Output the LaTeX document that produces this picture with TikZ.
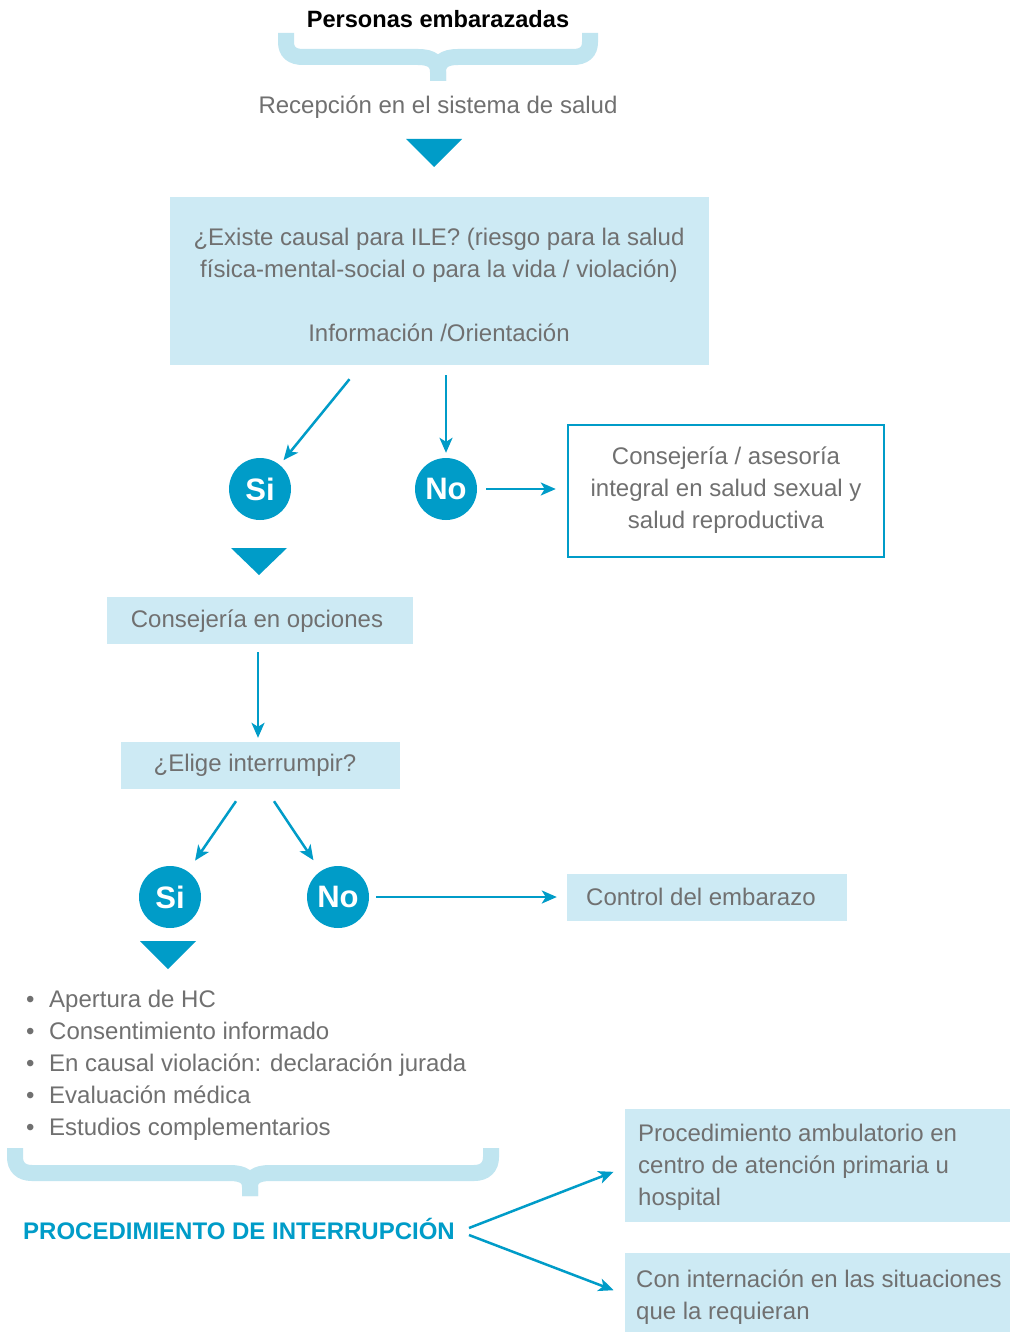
\documentclass[tikz,border=0pt]{standalone}
\usepackage{fontspec}
\setmainfont{Liberation Sans}
\usetikzlibrary{arrows.meta,calc}
\definecolor{dblue}{HTML}{009CC8}
\definecolor{lbox}{HTML}{CDEAF4}
\definecolor{lbrace}{HTML}{C0E5F0}
\definecolor{tgray}{HTML}{707070}
\begin{document}
\begin{tikzpicture}[x=1pt,y=-1pt,
  txt/.style={text=tgray,font=\fontsize{24}{32}\selectfont,inner sep=0pt},
  fbox/.style={fill=lbox,inner sep=0pt},
  circ/.style={circle,fill=dblue,minimum size=62pt,inner sep=0pt,text=white,font=\fontsize{31}{31}\selectfont\bfseries},
  arr/.style={draw=dblue,line width=2.5pt,-{Stealth[length=15pt,width=13pt,inset=4pt]}},
  tri/.style={fill=dblue},
  bracestroke/.style={draw=lbrace,line width=16pt}]
\useasboundingbox[fill=white] (0,0) rectangle (1010,1332);

% title and top brace
\node[font=\fontsize{23.6}{28}\selectfont\bfseries,inner sep=0pt] (title) at (438,19) {Personas embarazadas};
\draw[bracestroke] (286,33) -- (286,42) .. controls (286,52) and (292,57) .. (303,57) -- (418,57) .. controls (432,57) and (438,62) .. (438,72) -- (438,81);
\draw[bracestroke] (590,33) -- (590,42) .. controls (590,52) and (584,57) .. (573,57) -- (458,57) .. controls (444,57) and (438,62) .. (438,72) -- (438,81);

\node[txt] (recep) at (438,107) {Recepción en el sistema de salud};
\fill[tri] (406,139) -- (462,139) -- (434,167) -- cycle;

% first question box
\node[fbox,minimum width=539pt,minimum height=168pt] (box1) at (439.5,281) {};
\node[txt,align=center] (q1) at (439,285) {¿Existe causal para ILE? (riesgo para la salud\\física-mental-social o para la vida / violación)\\[32pt]Información /Orientación};

\node[circ] (si1) at (260,489) {Si};
\node[circ] (no1) at (446,489) {No};
\draw[arr,shorten >=6pt] ([shift={(-90,14)}]box1.south) -- (si1);
\draw[arr,shorten >=5pt] ([yshift=-10pt]box1.south -| no1.north) -- (no1.north);

\node[draw=dblue,line width=2.5pt,fill=white,minimum width=316pt,minimum height=132pt,inner sep=0pt] (cons) at (726,491) {};
\node[txt,align=center] (constxt) at (726,490) {Consejería / asesoría\\integral en salud sexual y\\salud reproductiva};
\draw[arr,shorten <=9pt,shorten >=11pt] (no1.east) -- (no1.east -| cons.west);

\fill[tri] (231,548) -- (287,548) -- (259,575) -- cycle;

\node[fbox,minimum width=306pt,minimum height=47pt] (opc) at (260,620.5) {};
\node[txt] (opctxt) at (257,621) {Consejería en opciones};

\node[fbox,minimum width=279pt,minimum height=47pt] (elige) at (260.5,765.5) {};
\node[txt] (eligetxt) at (255,765) {¿Elige interrumpir?};
\draw[arr,shorten <=8pt,shorten >=4pt] ([xshift=-2pt]opc.south) -- ([xshift=-2.5pt]elige.north);

\node[circ] (si2) at (170,897) {Si};
\node[circ] (no2) at (338,897) {No};
\draw[arr,shorten >=13pt] ([shift={(-24.5,12)}]elige.south) -- (si2);
\draw[arr,shorten >=13pt] ([shift={(13.5,12)}]elige.south) -- (no2);

\node[fbox,minimum width=280pt,minimum height=47pt] (ctrl) at (707,897) {};
\node[txt,anchor=west] (ctrltxt) at (586,897) {Control del embarazo};
\draw[arr,shorten <=7pt,shorten >=10pt] (no2.east) -- (no2.east -| ctrl.west);

\fill[tri] (140,941) -- (196,941) -- (168,969) -- cycle;

\node[txt,anchor=west,align=left] (list) at (26,1065) {%
\makebox[23pt][l]{\textbullet}Apertura de HC\\
\makebox[23pt][l]{\textbullet}Consentimiento informado\\
\makebox[23pt][l]{\textbullet}En causal violación: declaración jurada\\
\makebox[23pt][l]{\textbullet}Evaluación médica\\
\makebox[23pt][l]{\textbullet}Estudios complementarios};

% bottom brace
\draw[bracestroke] (15,1148) -- (15,1157) .. controls (15,1167) and (21,1173) .. (32,1173) -- (230,1173) .. controls (244,1173) and (250,1178) .. (250,1187) -- (250,1196);
\draw[bracestroke] (491,1148) -- (491,1157) .. controls (491,1167) and (485,1173) .. (474,1173) -- (270,1173) .. controls (256,1173) and (250,1178) .. (250,1187) -- (250,1196);

\node[text=dblue,font=\fontsize{24}{28}\selectfont\bfseries,inner sep=0pt,anchor=west] (proc) at (23,1229) {PROCEDIMIENTO DE INTERRUPCIÓN};

\node[fbox,minimum width=385pt,minimum height=113pt] (amb) at (817.5,1165.5) {};
\node[txt,anchor=west,align=left] (ambtxt) at (638,1167) {Procedimiento ambulatorio en\\centro de atención primaria u\\hospital};
\node[fbox,minimum width=385pt,minimum height=79pt] (intern) at (817.5,1292.5) {};
\node[txt,anchor=west,align=left] (interntxt) at (636,1297) {Con internación en las situaciones\\que la requieran};

\draw[arr,shorten >=12pt] ([shift={(14,-1)}]proc.east) -- ([yshift=-2pt]amb.west);
\draw[arr,shorten >=12pt] ([shift={(14,6)}]proc.east) -- ([yshift=-2pt]intern.west);
\end{tikzpicture}
\end{document}
